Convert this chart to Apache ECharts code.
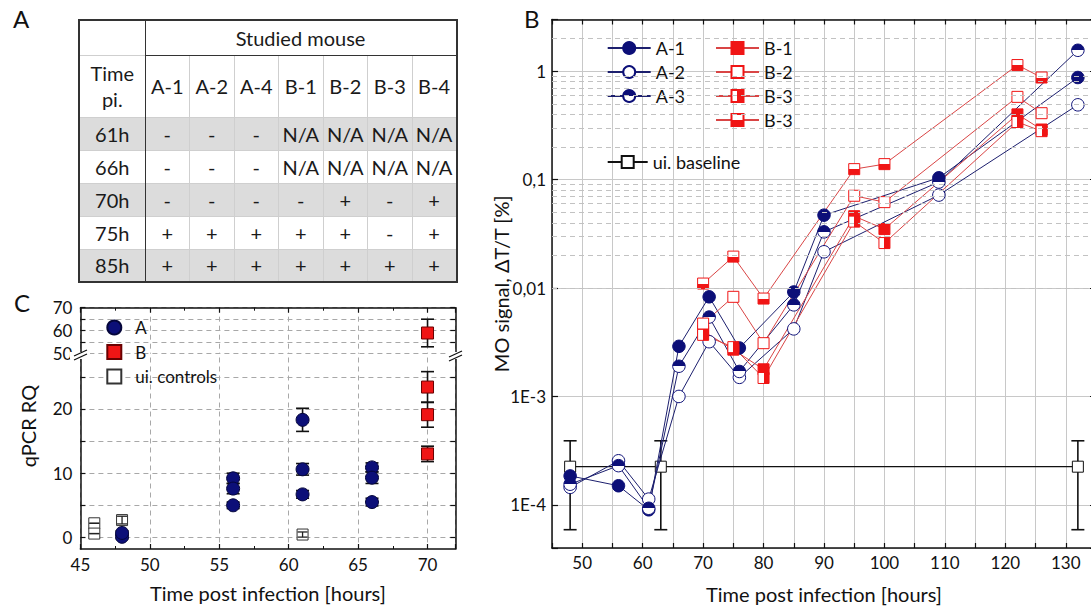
<!DOCTYPE html>
<html>
<head>
<meta charset="utf-8">
<script src="https://cdn.jsdelivr.net/npm/echarts@6/dist/echarts.min.js"></script>
<style>
  html, body { margin: 0; padding: 0; background: #fff; }
  #chart { position: absolute; left: 0; top: 0; width: 1091px; height: 608px; }
  #tableA {
    position: absolute; left: 78px; top: 19px; z-index: 2;
    border-collapse: collapse; table-layout: fixed; width: 378px;
    font-family: Lato, "Open Sans", sans-serif; font-size: 20px; color: #1a1a1a;
    border: 2px solid #333; background: #fff;
  }
  #tableA td {
    text-align: center; vertical-align: middle; padding: 0; white-space: nowrap;
    border-left: 1px solid #cfcfcf; border-top: 1px solid #cfcfcf;
  }
  #tableA td.time { border-right: 1.5px solid #333; line-height: 26px; }
  #tableA td.head { border-bottom: 1.5px solid #333; }
  #tableA tr.gray td { background: #dcdcdc; }
</style>
</head>
<body>
<div id="chart"></div>
<table id="tableA"></table>
<script>
// ---- panel A: detection table
const tableMice = ['A-1', 'A-2', 'A-4', 'B-1', 'B-2', 'B-3', 'B-4'];
const tableTimes = ['61h', '66h', '70h', '75h', '85h'];
const tableMarks = [
  ['-', '-', '-', 'N/A', 'N/A', 'N/A', 'N/A'],
  ['-', '-', '-', 'N/A', 'N/A', 'N/A', 'N/A'],
  ['-', '-', '-', '-', '+', '-', '+'],
  ['+', '+', '+', '+', '+', '-', '+'],
  ['+', '+', '+', '+', '+', '+', '+']
];

// ---- panel B: MO signal (log scale)
const mouseTimesA = [48, 56, 61, 66, 71, 76, 85, 90, 109, 132];
const signalA1 = [1.85e-4, 1.5e-4, 9.0e-5, 2.9e-3, 8.3e-3, 2.8e-3, 9.2e-3, 0.047, 0.104, 0.875];
const signalA2 = [1.45e-4, 2.55e-4, 1.13e-4, 1.0e-3, 3.2e-3, 1.5e-3, 4.2e-3, 0.0216, 0.072, 0.49];
const signalA3 = [1.55e-4, 2.3e-4, 9.3e-5, 1.9e-3, 5.4e-3, 1.7e-3, 7.0e-3, 0.033, 0.095, 1.56];
const mouseTimesB = [70, 75, 80, 95, 100, 122, 126];
const signalB1 = [4.0e-3, 2.7e-3, 1.78e-3, 0.046, 0.035, 0.40, 0.29];
const signalB2 = [4.7e-3, 8.3e-3, 3.1e-3, 0.071, 0.062, 0.58, 0.41];
const signalB3 = [3.7e-3, 2.85e-3, 1.48e-3, 0.041, 0.026, 0.34, 0.28];
const signalB4 = [0.011, 0.0195, 8.0e-3, 0.125, 0.139, 1.14, 0.875];
const baselineTimes = [48, 63, 132];
const baselineValue = [2.25e-4, 2.25e-4, 2.25e-4];
const baselineLow = [5.9e-5, 5.9e-5, 5.9e-5];
const baselineHigh = [3.9e-4, 3.9e-4, 3.9e-4];
const signalTickValues = [1e-4, 1e-3, 1e-2, 1e-1, 1];
const signalTickLabels = ['1E-4', '1E-3', '0,01', '0,1', '1'];

// ---- panel C: qPCR
const qpcrTimesA = [48, 48, 56, 56, 56, 61, 61, 61, 66, 66, 66];
const qpcrA = [0.1, 0.7, 9.2, 7.6, 5.0, 18.3, 10.6, 6.7, 10.9, 9.3, 5.5];
const qpcrErrA = [0.3, 0.3, 0.8, 0.8, 0.5, 1.8, 0.9, 0.6, 0.7, 0.9, 0.6];
const qpcrTimesB = [70, 70, 70, 70];
const qpcrB = [59, 23.4, 19.1, 13.0];
const qpcrErrB = [6, 2.4, 1.95, 1.2];
const qpcrTimesCtrl = [46, 46, 48, 61];
const qpcrCtrl = [2.2, 0.6, 2.7, 0.45];
const qpcrErrCtrl = [0, 0, 0.6, 0.4];
const qpcrBreak = 40;

// build table
const tbl = document.getElementById('tableA');
let html = '<colgroup><col style="width:66px">' + tableMice.map(() => '<col style="width:44.5px">').join('') + '</colgroup>';
html += '<tr style="height:35px"><td class="time" style="border-top:none"></td><td class="head" colspan="7">Studied mouse</td></tr>';
html += '<tr style="height:62px"><td class="time">Time<br>pi.</td>' + tableMice.map(m => '<td>' + m + '</td>').join('') + '</tr>';
tableTimes.forEach((t, i) => {
  html += '<tr style="height:33px"' + (i % 2 === 0 ? ' class="gray"' : '') + '><td class="time">' + t + '</td>' +
    tableMarks[i].map(v => '<td>' + v + '</td>').join('') + '</tr>';
});
tbl.innerHTML = html;

const FONT = 'Lato, "Open Sans", "DejaVu Sans", sans-serif';
const NAVY = '#0c0f78';
const RED = '#f01515';
const INK = '#111';

const chart = echarts.init(document.getElementById('chart'), null, { renderer: 'svg' });

function halfFill(first, second, vertical) {
  return new echarts.graphic.LinearGradient(0, 0, vertical ? 1 : 0, vertical ? 0 : 1, [
    { offset: 0, color: first }, { offset: 0.5, color: first },
    { offset: 0.5, color: second }, { offset: 1, color: second }
  ]);
}

function signalSeries(name, times, values, edge, lineColor, symbol, fill) {
  return {
    name, type: 'line', xAxisIndex: 0, yAxisIndex: 0,
    data: times.map((t, i) => [t, values[i]]),
    symbol, symbolSize: symbol === 'circle' ? 12.5 : 11,
    itemStyle: { color: fill, borderColor: edge, borderWidth: 1 },
    lineStyle: { color: lineColor, width: 1 },
    emphasis: { disabled: true }, z: 3
  };
}

function errorBars(capHalf, color, width) {
  return function (params, api) {
    const x = api.value(0);
    const lo = api.coord([x, api.value(2)]);
    const hi = api.coord([x, api.value(3)]);
    const st = { stroke: color, lineWidth: width };
    return {
      type: 'group', children: [
        { type: 'line', shape: { x1: lo[0], y1: lo[1], x2: hi[0], y2: hi[1] }, style: st },
        { type: 'line', shape: { x1: lo[0] - capHalf, y1: lo[1], x2: lo[0] + capHalf, y2: lo[1] }, style: st },
        { type: 'line', shape: { x1: hi[0] - capHalf, y1: hi[1], x2: hi[0] + capHalf, y2: hi[1] }, style: st }
      ]
    };
  };
}

// minor log grid lines at 2..9 x 10^k inside the axis range
const logMin = 4e-5, logMax = 3;
const minorLogLines = [];
for (let k = -5; k <= 0; k++) {
  for (let m = 2; m <= 9; m++) {
    const v = m * Math.pow(10, k);
    if (v > logMin && v < logMax) minorLogLines.push({ yAxis: v });
  }
}

function logLabel(v) {
  for (let i = 0; i < signalTickValues.length; i++) {
    if (Math.abs(Math.log10(v) - Math.log10(signalTickValues[i])) < 1e-6) return signalTickLabels[i];
  }
  return '';
}

// qPCR points split across the broken axis
function qpcrPoints(times, vals, errs, upper) {
  const out = [];
  times.forEach((t, i) => {
    if ((vals[i] > qpcrBreak) === upper) out.push([t, vals[i], vals[i] - errs[i], vals[i] + errs[i]]);
  });
  return out;
}

const tickIn = (len) => ({ show: true, inside: true, length: len, lineStyle: { color: INK, width: 1.2 } });
const blackLine = { show: true, onZero: false, lineStyle: { color: INK, width: 1.5 } };
const tickFont = { fontFamily: FONT, fontSize: 17, color: INK };
const dashedGrid = { show: true, lineStyle: { color: '#a8a8a8', type: [5, 4], width: 1 } };
const solidGrid = { show: true, lineStyle: { color: '#c8c8c8', width: 1 } };
const legendText = { fontFamily: FONT, fontSize: 18, color: INK };

const option = {
  animation: false,
  backgroundColor: '#fff',
  textStyle: { fontFamily: FONT },
  title: [
    { text: 'A', left: 13, top: 6, padding: 0, textStyle: { fontFamily: FONT, fontSize: 24, fontWeight: 'normal', color: INK } },
    { text: 'B', left: 524, top: 6, padding: 0, textStyle: { fontFamily: FONT, fontSize: 24, fontWeight: 'normal', color: INK } },
    { text: 'C', left: 14, top: 290, padding: 0, textStyle: { fontFamily: FONT, fontSize: 24, fontWeight: 'normal', color: INK } }
  ],
  grid: [
    { left: 552, top: 19.5, right: -5, bottom: 60, outerBoundsMode: 'none' },
    { left: 80.4, top: 307.7, right: 635.7, height: 46, outerBoundsMode: 'none' },
    { left: 80.4, top: 357.5, right: 635.7, bottom: 59, outerBoundsMode: 'none' }
  ],
  legend: [
    {
      data: ['A-1', 'A-2', 'A-3'], orient: 'vertical', left: 606.7, top: 39, padding: 0,
      itemWidth: 43, itemHeight: 15, itemGap: 6, selectedMode: false, textStyle: legendText
    },
    {
      data: ['B-1', 'B-2', 'B-3', 'B-4'], orient: 'vertical', left: 715, top: 39, padding: 0,
      itemWidth: 43, itemHeight: 15, itemGap: 6, selectedMode: false,
      formatter: (name) => (name === 'B-4' ? 'B-3' : name), textStyle: legendText
    },
    {
      data: ['ui. baseline'], left: 606.7, top: 153, padding: 0,
      itemWidth: 40, itemHeight: 15, selectedMode: false, textStyle: legendText
    },
    {
      data: ['A', 'B', 'ui. controls'], orient: 'vertical', left: 106.3, top: 319, padding: 0,
      itemWidth: 14, itemHeight: 14, itemGap: 7.5, selectedMode: false,
      textStyle: { fontFamily: FONT, fontSize: 17, color: INK, padding: [0, 0, 0, 9] }
    }
  ],
  xAxis: [
    {
      type: 'value', gridIndex: 0, min: 45, max: 135, interval: 5,
      axisLine: blackLine, axisTick: tickIn(5), splitLine: solidGrid,
      axisLabel: { ...tickFont, margin: 6, formatter: (v) => (v % 10 === 0 && v <= 130 ? String(v) : '') },
      name: 'Time post infection [hours]', nameLocation: 'middle', nameGap: 36, nameMoveOverlap: false,
      nameTextStyle: { fontFamily: FONT, fontSize: 20, color: INK }
    },
    {
      type: 'value', gridIndex: 0, position: 'top', min: 45, max: 135, interval: 5,
      axisLine: blackLine, axisTick: tickIn(5), splitLine: { show: false }, axisLabel: { show: false }
    },
    {
      type: 'value', gridIndex: 1, position: 'top', min: 45, max: 72, interval: 5,
      axisLine: blackLine, axisTick: tickIn(5), minorTick: { show: true, splitNumber: 2, length: 3, lineStyle: { color: INK } },
      splitLine: dashedGrid, axisLabel: { show: false }
    },
    {
      type: 'value', gridIndex: 2, position: 'bottom', min: 45, max: 72, interval: 5,
      axisLine: blackLine, axisTick: tickIn(5), minorTick: { show: true, splitNumber: 2, length: 3, lineStyle: { color: INK } },
      splitLine: dashedGrid,
      axisLabel: { ...tickFont, margin: 7, formatter: (v) => (v % 5 === 0 ? String(v) : '') },
      name: 'Time post infection [hours]', nameLocation: 'middle', nameGap: 34, nameMoveOverlap: false,
      nameTextStyle: { fontFamily: FONT, fontSize: 20, color: INK }
    }
  ],
  yAxis: [
    {
      type: 'log', logBase: 10, gridIndex: 0, min: logMin, max: logMax,
      axisLine: blackLine, axisTick: tickIn(6), splitLine: solidGrid,
      axisLabel: { ...tickFont, margin: 6, formatter: logLabel },
      name: 'MO signal, \u0394T/T [%]', nameLocation: 'middle', nameGap: 41, nameMoveOverlap: false,
      nameTextStyle: { fontFamily: FONT, fontSize: 20, color: INK }
    },
    {
      type: 'log', logBase: 10, gridIndex: 0, position: 'right', min: logMin, max: logMax,
      axisLine: blackLine, axisTick: tickIn(6), splitLine: { show: false }, axisLabel: { show: false }
    },
    {
      type: 'value', gridIndex: 1, min: 50, max: 70, interval: 5,
      axisLine: blackLine, axisTick: tickIn(5), splitLine: dashedGrid,
      axisLabel: { ...tickFont, margin: 8, formatter: (v) => (v % 10 === 0 ? String(v) : '') }
    },
    {
      type: 'value', gridIndex: 1, position: 'right', min: 50, max: 70, interval: 5,
      axisLine: blackLine, axisTick: tickIn(5), splitLine: { show: false }, axisLabel: { show: false }
    },
    {
      type: 'value', gridIndex: 2, min: -1.8, max: 28,
      axisLine: blackLine,
      axisTick: { ...tickIn(5), customValues: [0, 5, 10, 15, 20, 25] },
      splitLine: dashedGrid,
      axisLabel: { ...tickFont, margin: 8, customValues: [0, 10, 20] }
    },
    {
      type: 'value', gridIndex: 2, position: 'right', min: -1.8, max: 28,
      axisLine: blackLine,
      axisTick: { ...tickIn(5), customValues: [0, 5, 10, 15, 20, 25] },
      splitLine: { show: false }, axisLabel: { show: false }
    }
  ],
  graphic: [
    {
      type: 'text', x: 28, y: 426, rotation: Math.PI / 2,
      style: { text: 'qPCR RQ', font: '20px ' + FONT, fill: INK, align: 'center', verticalAlign: 'middle' }
    },
    { type: 'rect', shape: { x: 70, y: 352, width: 20, height: 7 }, style: { fill: '#fff' }, z: 100 },
    { type: 'rect', shape: { x: 446, y: 352, width: 20, height: 7 }, style: { fill: '#fff' }, z: 100 },
    { type: 'line', shape: { x1: 74, y1: 356, x2: 87, y2: 350 }, style: { stroke: INK, lineWidth: 1.3 }, z: 101 },
    { type: 'line', shape: { x1: 74, y1: 360, x2: 87, y2: 354 }, style: { stroke: INK, lineWidth: 1.3 }, z: 101 },
    { type: 'line', shape: { x1: 449, y1: 357, x2: 462, y2: 351 }, style: { stroke: INK, lineWidth: 1.3 }, z: 101 },
    { type: 'line', shape: { x1: 449, y1: 361, x2: 462, y2: 355 }, style: { stroke: INK, lineWidth: 1.3 }, z: 101 }
  ],
  series: [
    // panel B
    {
      name: 'ui. baseline error', type: 'custom', xAxisIndex: 0, yAxisIndex: 0,
      data: baselineTimes.map((t, i) => [t, baselineValue[i], baselineLow[i], baselineHigh[i]]),
      renderItem: errorBars(6.5, INK, 1.6), encode: { x: 0, y: 1 }, z: 2, silent: true,
      markLine: {
        silent: true, symbol: ['none', 'none'], label: { show: false },
        lineStyle: { color: '#c2c2c2', type: [5, 4], width: 1 }, emphasis: { disabled: true },
        data: minorLogLines
      }
    },
    {
      name: 'ui. baseline', type: 'line', xAxisIndex: 0, yAxisIndex: 0,
      data: baselineTimes.map((t, i) => [t, baselineValue[i]]),
      symbol: 'rect', symbolSize: 11,
      itemStyle: { color: '#fff', borderColor: INK, borderWidth: 1 },
      lineStyle: { color: INK, width: 1.3 }, emphasis: { disabled: true }, z: 2
    },
    signalSeries('A-1', mouseTimesA, signalA1, NAVY, '#1c1f6e', 'circle', NAVY),
    signalSeries('A-2', mouseTimesA, signalA2, NAVY, '#1c1f6e', 'circle', '#fff'),
    signalSeries('A-3', mouseTimesA, signalA3, NAVY, '#1c1f6e', 'circle', halfFill(NAVY, '#fff', false)),
    signalSeries('B-1', mouseTimesB, signalB1, RED, '#d94545', 'rect', RED),
    signalSeries('B-2', mouseTimesB, signalB2, RED, '#d94545', 'rect', '#fff'),
    signalSeries('B-3', mouseTimesB, signalB3, RED, '#d94545', 'rect', halfFill('#fff', RED, true)),
    signalSeries('B-4', mouseTimesB, signalB4, RED, '#d94545', 'rect', halfFill('#fff', RED, false)),

    // panel C error bars and points
    {
      name: 'A error', type: 'custom', xAxisIndex: 3, yAxisIndex: 4,
      data: qpcrPoints(qpcrTimesA, qpcrA, qpcrErrA, false),
      renderItem: errorBars(6.5, INK, 1.6), encode: { x: 0, y: 1 }, z: 2, silent: true
    },
    {
      name: 'B error', type: 'custom', xAxisIndex: 3, yAxisIndex: 4,
      data: qpcrPoints(qpcrTimesB, qpcrB, qpcrErrB, false),
      renderItem: errorBars(6.5, INK, 1.6), encode: { x: 0, y: 1 }, z: 2, silent: true
    },
    {
      name: 'B error upper', type: 'custom', xAxisIndex: 2, yAxisIndex: 2,
      data: qpcrPoints(qpcrTimesB, qpcrB, qpcrErrB, true),
      renderItem: errorBars(6.5, INK, 1.6), encode: { x: 0, y: 1 }, z: 2, silent: true
    },
    {
      name: 'A', type: 'scatter', xAxisIndex: 3, yAxisIndex: 4,
      data: qpcrPoints(qpcrTimesA, qpcrA, qpcrErrA, false).map((p) => [p[0], p[1]]),
      symbol: 'circle', symbolSize: 13,
      itemStyle: { color: NAVY, borderColor: '#05063a', borderWidth: 1, opacity: 1 }, emphasis: { disabled: true }, z: 3
    },
    {
      name: 'B', type: 'scatter', xAxisIndex: 3, yAxisIndex: 4,
      data: qpcrPoints(qpcrTimesB, qpcrB, qpcrErrB, false).map((p) => [p[0], p[1]]),
      symbol: 'rect', symbolSize: 12,
      itemStyle: { color: RED, borderColor: '#6a0000', borderWidth: 1, opacity: 1 }, emphasis: { disabled: true }, z: 3
    },
    {
      name: 'B', type: 'scatter', xAxisIndex: 2, yAxisIndex: 2,
      data: qpcrPoints(qpcrTimesB, qpcrB, qpcrErrB, true).map((p) => [p[0], p[1]]),
      symbol: 'rect', symbolSize: 12,
      itemStyle: { color: RED, borderColor: '#6a0000', borderWidth: 1, opacity: 1 }, emphasis: { disabled: true }, z: 3
    },
    {
      name: 'ui. controls', type: 'scatter', xAxisIndex: 3, yAxisIndex: 4,
      data: qpcrPoints(qpcrTimesCtrl, qpcrCtrl, qpcrErrCtrl, false).map((p) => [p[0], p[1]]),
      symbol: 'rect', symbolSize: 11,
      itemStyle: { color: '#fff', borderColor: '#333', borderWidth: 1, opacity: 1 }, emphasis: { disabled: true }, z: 3
    },
    {
      name: 'ui. controls error', type: 'custom', xAxisIndex: 3, yAxisIndex: 4,
      data: qpcrPoints(qpcrTimesCtrl, qpcrCtrl, qpcrErrCtrl, false),
      renderItem: errorBars(5, '#222', 1.3), encode: { x: 0, y: 1 }, z: 4, silent: true
    }
  ]
};

chart.setOption(option);
</script>
</body>
</html>
